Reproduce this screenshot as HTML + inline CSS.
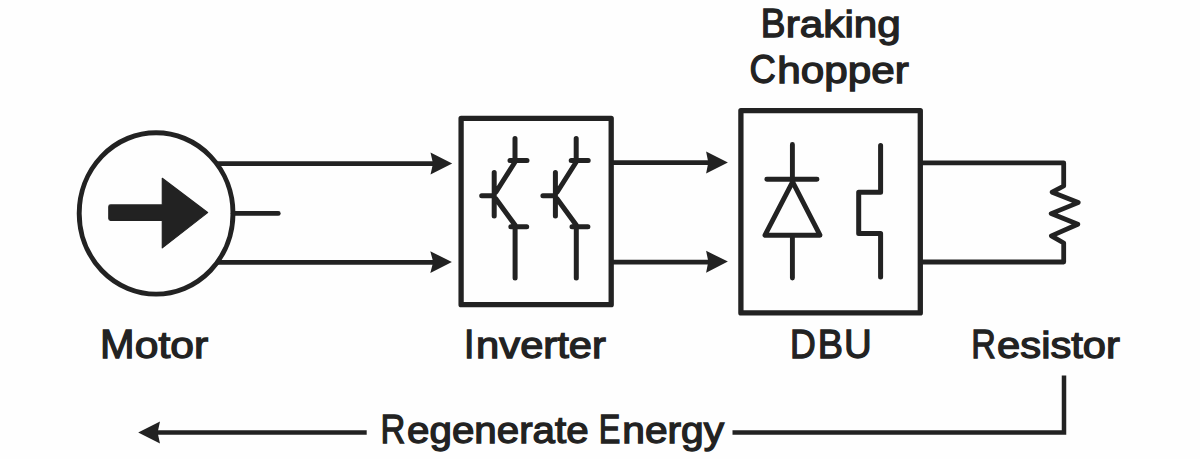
<!DOCTYPE html>
<html>
<head>
<meta charset="utf-8">
<style>
html,body{margin:0;padding:0;background:#fff;width:1200px;height:459px;overflow:hidden;}
svg{display:block;}
text{font-family:"Liberation Sans",sans-serif;font-weight:normal;fill:#222222;}
</style>
</head>
<body>
<svg width="1200" height="459" viewBox="0 0 1200 459">
<rect x="0" y="0" width="1200" height="459" fill="#fefefe"/>
<g fill="none" stroke="#222222" stroke-width="4.6" stroke-linecap="round" stroke-linejoin="round">
  <!-- motor -->
  <ellipse cx="156.1" cy="213.4" rx="76.9" ry="80.7" stroke-width="4.9"/>
  <line x1="233" y1="213.4" x2="278.3" y2="213.4" stroke-width="4.7"/>
  <line x1="216" y1="163.6" x2="436" y2="163.6" stroke-width="4.8" stroke-linecap="butt"/>
  <line x1="216" y1="262.3" x2="436" y2="262.3" stroke-width="4.8" stroke-linecap="butt"/>
  <!-- inverter box -->
  <rect x="461.1" y="118.3" width="150.1" height="186.4" stroke-width="5.3"/>
  <line x1="611" y1="162.6" x2="712" y2="162.6" stroke-width="4.8" stroke-linecap="butt"/>
  <line x1="611" y1="262.2" x2="712" y2="262.2" stroke-width="4.8" stroke-linecap="butt"/>
  <!-- transistors -->
  <g stroke-width="5">
    <path d="M515 138.5 V160.5 M510 160.5 H527 M515 162 L496 192 M494.2 172.5 V216 M481.7 195.7 H494.2 M496 199 L515 225 M510.8 226.8 H526.7 M515.1 226.8 V278"/>
    <path transform="translate(61.2 0)" d="M515 138.5 V160.5 M510 160.5 H527 M515 162 L496 192 M494.2 172.5 V216 M481.7 195.7 H494.2 M496 199 L515 225 M510.8 226.8 H526.7 M515.1 226.8 V278"/>
  </g>
  <!-- DBU box -->
  <rect x="740.9" y="110.6" width="179.4" height="202.3" stroke-width="5.3"/>
  <!-- diode -->
  <path d="M792.4 144.5 V180 M766.8 179.2 H817 M792.6 181.8 L765 235.2 H820 Z M792.4 235.2 V278" stroke-width="4.9"/>
  <!-- switch -->
  <path d="M880.6 145.5 V192.2 H858.7 V233.4 H880.6 V277" stroke-width="5"/>
  <!-- resistor -->
  <path d="M920.5 162.8 H1063.7 V186 L1052.2 192.2 L1078.2 202.6 L1051.2 213.6 L1077.8 224.3 L1051.4 235.9 L1063.7 243 V262 H920.5" stroke-width="4.8"/>
  <!-- bottom path -->
  <path d="M1064 375.5 V432.5 H732.5" stroke-width="4.5" stroke-linecap="butt" stroke-linejoin="miter"/>
  <line x1="157" y1="432.6" x2="366.7" y2="432.6" stroke-width="4.5" stroke-linecap="butt"/>
</g>
<g fill="#222222" stroke="none">
  <!-- motor arrow -->
  <path d="M110.6 204.9 H162.3 V178.3 L207.6 212.6 L162.3 247.9 V220.4 H110.6 Q108.8 220.4 108.8 218.6 V206.7 Q108.8 204.9 110.6 204.9 Z" stroke="#222222" stroke-width="1.2" stroke-linejoin="round"/>
  <!-- arrowheads -->
  <path d="M430.5 152.5 L452.2 163.5 L430.5 174.5 L433 163.5 Z"/>
  <path d="M430.3 251.2 L451.9 262.1 L430.3 273 L433.2 262.1 Z"/>
  <path d="M706.1 151.6 L727.9 162.5 L706.1 173.4 L708.3 162.5 Z"/>
  <path d="M706.1 250.8 L727.9 261.6 L706.1 272.8 L708.3 261.6 Z"/>
  <path d="M160 421.4 L138.2 432.4 L160 443.4 L157.6 432.4 Z"/>
</g>
<g stroke="#222222" stroke-width="1.3">
<text x="100.12" y="357.9" font-size="40" textLength="34.52" lengthAdjust="spacingAndGlyphs">M</text>
<text x="134.82" y="357.9" font-size="37.5" textLength="73.47" lengthAdjust="spacingAndGlyphs">otor</text>
<text x="464.08" y="357.9" font-size="40" textLength="10.42" lengthAdjust="spacingAndGlyphs">I</text>
<text x="476.12" y="357.9" font-size="37.5" textLength="129.82" lengthAdjust="spacingAndGlyphs">nverter</text>
<text x="790.07" y="357.9" font-size="40" textLength="25.76" lengthAdjust="spacingAndGlyphs">D</text>
<text x="817.69" y="357.9" font-size="40" textLength="25.24" lengthAdjust="spacingAndGlyphs">B</text>
<text x="843.88" y="357.9" font-size="40" textLength="27.73" lengthAdjust="spacingAndGlyphs">U</text>
<text x="971.33" y="357.9" font-size="40" textLength="24.55" lengthAdjust="spacingAndGlyphs">R</text>
<text x="997.14" y="357.9" font-size="37.5" textLength="122.79" lengthAdjust="spacingAndGlyphs">esistor</text>
<text x="760.81" y="36.8" font-size="40" textLength="24.70" lengthAdjust="spacingAndGlyphs">B</text>
<text x="785.80" y="36.8" font-size="37.5" textLength="114.90" lengthAdjust="spacingAndGlyphs">raking</text>
<text x="749.53" y="83.0" font-size="40" textLength="26.29" lengthAdjust="spacingAndGlyphs">C</text>
<text x="777.32" y="83.0" font-size="37.5" textLength="131.58" lengthAdjust="spacingAndGlyphs">hopper</text>
<text x="380.50" y="442.7" font-size="40" textLength="24.82" lengthAdjust="spacingAndGlyphs">R</text>
<text x="407.14" y="442.7" font-size="37.5" textLength="181.47" lengthAdjust="spacingAndGlyphs">egenerate</text>
<text x="598.63" y="442.7" font-size="40" textLength="21.62" lengthAdjust="spacingAndGlyphs">E</text>
<text x="622.29" y="442.7" font-size="37.5" textLength="101.85" lengthAdjust="spacingAndGlyphs">nergy</text>
</g>
</svg>
</body>
</html>
